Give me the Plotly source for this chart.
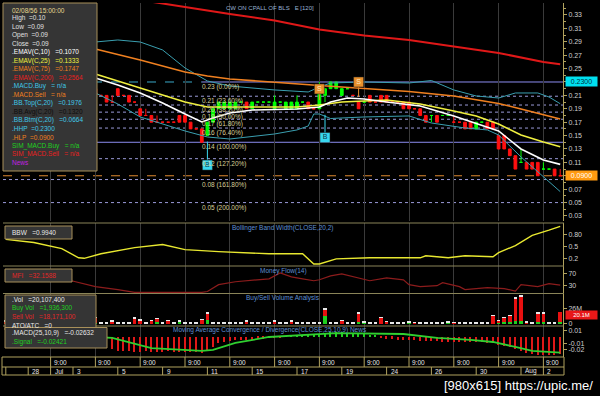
import plotly.graph_objects as go

# ---------------- DATA ----------------
bars = list(range(100))

opens = [.25,.24,.25,.24,.23,.24,.23,.22,.23,.22,
         .23,.22,.22,.22,.21,.22,.22,.21,.21,.20,
         .22,.21,.21,.20,.19,.18,.18,.17,.17,.17,
         .17,.18,.18,.17,.16,.16,.15,.17,.19,.19,
         .19,.19,.20,.20,.19,.20,.20,.20,.19,.20,
         .19,.19,.19,.20,.20,.19,.19,.21,.22,.22,
         .21,.22,.21,.20,.20,.21,.20,.21,.21,.20,
         .20,.20,.20,.19,.19,.18,.18,.18,.18,.18,
         .17,.17,.17,.17,.16,.17,.17,.17,.15,.15,
         .13,.12,.11,.11,.11,.11,.10,.10,.10,.09]
highs = [.25,.25,.25,.24,.24,.24,.23,.23,.23,.23,
         .23,.22,.23,.22,.22,.22,.22,.21,.21,.21,
         .22,.21,.21,.20,.19,.19,.18,.18,.17,.17,
         .17,.18,.18,.17,.16,.16,.17,.19,.20,.20,
         .20,.20,.20,.20,.20,.20,.20,.20,.21,.20,
         .20,.20,.21,.20,.20,.19,.23,.22,.23,.23,
         .22,.22,.21,.20,.20,.21,.20,.21,.21,.20,
         .20,.20,.20,.19,.19,.18,.18,.18,.18,.18,
         .18,.17,.17,.17,.17,.17,.17,.17,.15,.15,
         .13,.12,.13,.11,.11,.11,.11,.10,.10,.10]
lows = [.24,.24,.24,.23,.23,.23,.22,.22,.22,.22,
        .22,.22,.22,.21,.21,.21,.21,.21,.20,.20,
        .21,.21,.20,.20,.18,.18,.17,.17,.17,.17,
        .17,.17,.17,.16,.16,.14,.15,.17,.19,.19,
        .19,.19,.20,.19,.19,.20,.20,.20,.19,.20,
        .19,.19,.19,.20,.19,.19,.19,.20,.22,.22,
        .21,.22,.21,.19,.20,.20,.20,.20,.20,.20,
        .20,.19,.19,.19,.18,.17,.17,.17,.18,.18,
        .17,.17,.16,.16,.16,.17,.16,.16,.13,.13,
        .12,.10,.11,.10,.10,.09,.10,.10,.09,.09]
closes = [.24,.25,.24,.23,.24,.23,.22,.23,.22,.23,
          .22,.22,.22,.21,.22,.22,.21,.21,.20,.20,
          .21,.21,.20,.20,.18,.18,.17,.17,.17,.17,
          .17,.17,.17,.16,.16,.14,.17,.19,.20,.20,
          .20,.20,.20,.19,.20,.20,.20,.20,.20,.20,
          .20,.20,.20,.20,.19,.19,.22,.22,.23,.23,
          .22,.22,.21,.19,.20,.20,.20,.20,.20,.20,
          .20,.19,.19,.19,.18,.17,.18,.17,.18,.18,
          .17,.17,.16,.16,.17,.17,.16,.16,.13,.13,
          .12,.10,.11,.10,.10,.09,.10,.10,.09,.09]

ema200_x = [0, 8, 16, 24, 32, 40, 48, 56, 64, 72, 80, 88, 96, 99]
ema200 = [0.3837, 0.3733, 0.3628, 0.3516, 0.3412, 0.3315, 0.3218, 0.3084, 0.2994,
          0.2927, 0.2830, 0.2733, 0.2599, 0.2564]
ema75_x = [0, 8, 16, 24, 32, 36, 40, 48, 56, 64, 72, 80, 88, 92, 96, 99]
ema75 = [0.3076, 0.2927, 0.2793, 0.2628, 0.2449, 0.2390, 0.2345, 0.2293, 0.2248,
         0.2203, 0.2158, 0.2091, 0.1979, 0.1897, 0.1807, 0.1747]
ema25_x = [0, 8, 16, 24, 32, 36, 44, 52, 56, 60, 68, 74, 80, 84, 88, 92, 96, 99]
ema25 = [0.2703, 0.2554, 0.2419, 0.2211, 0.2002, 0.1927, 0.1927, 0.1927, 0.1957,
         0.2002, 0.2031, 0.1972, 0.1867, 0.1793, 0.1673, 0.1509, 0.1405, 0.1333]
ema10_x = [0, 8, 16, 20, 24, 28, 32, 35, 37, 40, 44, 52, 56, 58, 61, 64, 68, 74,
           80, 85, 88, 90, 92, 96, 99]
ema10 = [0.2628, 0.2509, 0.2360, 0.2255, 0.2136, 0.1987, 0.1822, 0.1703, 0.1763,
         0.1837, 0.1882, 0.1897, 0.1927, 0.2002, 0.2061, 0.2046, 0.2002, 0.1942,
         0.1793, 0.1658, 0.1569, 0.1434, 0.1300, 0.1136, 0.1070]
bbtop_x = [0, 8, 16, 20, 24, 28, 32, 36, 40, 48, 54, 56, 58, 64, 72, 76, 80, 84,
           88, 91, 95, 97, 99]
bbtop = [0.2778, 0.2852, 0.2897, 0.2927, 0.2897, 0.2778, 0.2509, 0.2315, 0.2240,
         0.2181, 0.2151, 0.2225, 0.2285, 0.2300, 0.2285, 0.2322, 0.2181, 0.2091,
         0.2061, 0.2136, 0.2136, 0.2076, 0.1976]
bbbtm_x = [0, 8, 16, 20, 24, 28, 32, 36, 40, 48, 52, 54, 55, 56, 58, 64, 72, 76,
           82, 86, 88, 92, 95, 99]
bbbtm = [0.2479, 0.2330, 0.2136, 0.1972, 0.1778, 0.1673, 0.1569, 0.1479, 0.1449,
         0.1524, 0.1584, 0.1643, 0.1822, 0.1822, 0.1755, 0.1778, 0.1793, 0.1688,
         0.1613, 0.1584, 0.1509, 0.1181, 0.0957, 0.0664]
bbavg_last = 0.1320

bbw_x = [0, 5, 10, 13, 14, 17, 23, 28, 32, 38, 47, 53, 55, 56, 59, 65, 74, 75, 79,
         82, 87, 88, 91, 94, 97, 99]
bbw = [0.675, 0.60, 0.45, 0.225, 0.2125, 0.325, 0.475, 0.55, 0.425, 0.375, 0.325,
       0.325, 0.075, 0.075, 0.20, 0.225, 0.225, 0.275, 0.225, 0.275, 0.25, 0.35,
       0.525, 0.775, 0.90, 0.994]

mfi_x = [0, 5, 11, 16, 20, 23, 26, 30, 35, 36, 38, 41, 47, 49, 51, 53, 55, 56, 58,
         60, 62, 65, 68, 71, 72, 74, 77, 78, 81, 82, 86, 89, 91, 92, 95, 97, 99]
mfi = [76.7, 70, 50, 26.7, 16.7, 7, 7, 7, 7, 10, 33.3, 43.3, 53.3, 73.3, 60, 53.3,
       46.7, 50, 63.3, 70, 60, 46.7, 56.7, 50, 33.3, 26.7, 30, 40, 26.7, 16.7, 23.3,
       20, 11.7, 33.3, 26.7, 36.7, 32.1588]

vol_buy = [1, 0, 0, 2, 0, 1, 0, 0, 3, 0,
           0, 1, 0, 0, 2, 0, 1, 0, 0, 0,
           0, 0, 0, 0, 0, 0, 0, 3, 0, 0,
           0, 3, 0, 0, 0, 0, 6, 0, 0, 0,
           0, 0, 0, 0, 0, 0, 0, 0, 0, 0,
           0, 0, 0, 0, 0, 0, 0, 13, 0, 0,
           0, 0, 0, 3, 2, 0, 0, 0, 0, 0,
           0, 0, 2, 0, 0, 0, 0, 0, 0, 2,
           0, 0, 0, 0, 0, 0, 0, 0, 2, 2,
           3, 4, 4, 0, 0, 3, 3, 0, 0, 1.9363]
vol_sell = [3, 2, 0, 5, 0, 4, 0, 2, 6, 0,
            2, 5, 0, 3, 6, 0, 9, 0, 0, 4,
            0, 0, 0, 9, 5, 0, 5, 5, 0, 5,
            0, 0, 0, 0, 0, 7, 11, 0, 0, 0,
            0, 0, 0, 4, 0, 0, 0, 0, 3, 0,
            0, 3, 0, 0, 0, 0, 0, 11, 0, 0,
            5, 0, 0, 14, 0, 0, 0, 10, 3, 0,
            0, 0, 0, 2, 0, 0, 0, 0, 0, 0,
            2, 0, 0, 0, 0, 0, 0, 13, 3, 8,
            10, 38, 41, 1.5, 0, 14, 14, 0, 0, 18.1711]
vol_ato = [1, 1.5, 1.5, 1, 1.5, 1, 1.5, 1, 1, 1.5,
           1, 1, 1.5, 1, 1, 1.5, 0.5, 1.5, 1.5, 1,
           1.5, 1.5, 1.5, 1, 1.5, 1.5, 0.5, 0.5, 1.5, 0.5,
           1.5, 2, 1.5, 1.5, 1.5, 0.5, 1, 1.5, 1.5, 1.5,
           1.5, 1.5, 1.5, 0.5, 1.5, 1.5, 1.5, 1.5, 2, 1.5,
           1.5, 1.5, 1.5, 1.5, 1.5, 1.5, 1.5, 1, 1.5, 1.5,
           0.5, 1.5, 1.5, 1, 1.5, 1.5, 1.5, 0.5, 0.5, 1.5,
           1.5, 1.5, 1, 0.5, 1.5, 1.5, 1.5, 1.5, 1.5, 2,
           0.5, 1.5, 1.5, 1.5, 1.5, 1.5, 1.5, 0.5, 0.5, 0.5,
           0.5, 2, 2, 1.5, 1.5, 1.5, 1.5, 1.5, 1.5, 0]

macd = [-0.008, -0.006, -0.004, -0.002, 0.0, 0.001, 0.002, 0.002, 0.002, 0.001,
        0.0, -0.002, -0.004, -0.006, -0.008, -0.010, -0.012, -0.014, -0.017, -0.019,
        -0.021, -0.022, -0.022, -0.023, -0.023, -0.022, -0.023, -0.023, -0.023, -0.022,
        -0.023, -0.023, -0.023, -0.023, -0.023, -0.024, -0.020, -0.015, -0.010, -0.007,
        -0.006, -0.005, -0.005, -0.004, -0.004, -0.003, -0.003, -0.002, -0.002, -0.001,
        0.001, 0.001, 0.002, 0.002, 0.002, 0.003, 0.005, 0.006, 0.007, 0.007,
        0.007, 0.006, 0.006, 0.005, 0.004, 0.003, 0.002, -0.002, -0.003, -0.003,
        -0.004, -0.004, -0.005, -0.005, -0.006, -0.006, -0.006, -0.006, -0.007, -0.007,
        -0.007, -0.007, -0.008, -0.008, -0.008, -0.008, -0.009, -0.010, -0.012, -0.014,
        -0.016, -0.019, -0.022, -0.024, -0.026, -0.027, -0.027, -0.027, -0.027, -0.02632]
signal_x = [0, 8, 16, 19, 26, 35, 37, 41, 47, 53, 59, 71, 77, 83, 87, 91, 94, 99]
signal = [-0.006, -0.002, 0.0, -0.0015, -0.017, -0.0215, -0.020, -0.0092, 0.0, 0.003,
          0.006, 0.0046, -0.0015, -0.0046, -0.0077, -0.0154, -0.0215, -0.02421]

fib_high, fib_low = 0.23, 0.14
fib_ratios = [0.0, 0.236, 0.382, 0.5, 0.618, 0.764, 1.0, 1.272, 1.618, 2.0]
fib_start = 35
hhp, hlp = 0.23, 0.09

sig_bars = [36, 57, 56, 63]
sig_kind = ['B', 'B', 'S', 'S']
sig_box = [0.106, 0.147, 0.2196, 0.2300]
sig_stem_from = [0.141, 0.181, 0.203, 0.2076]
sig_stem_to = [0.114, 0.154, 0.2136, 0.224]

hour_ticks = [8, 16, 24, 32, 40, 48, 56, 64, 72, 80, 88, 96]
hour_labels = ['9:00'] * 12
date_ticks = [0, 4, 8, 12, 20, 28, 36, 44, 52, 60, 68, 76, 84, 92, 96]
date_labels = ['', '28', 'Jul', '3', '5', '9', '11', '15', '17', '19', '24', '26',
               '30', 'Aug', '2']
stamp = '02/08/56 15:00:00'

# ---------------- LAYOUT HELPERS ----------------
W, H = 600, 396
X0, X1 = 3, 563
FONT = 'Liberation Sans, Arial, sans-serif'
AXC = '#b0a25e'
BOXC = '#a8905a'
SP = '\u00a0'


def fx(px):
    return px / W


def fy(py):
    return 1 - py / H


panels = {1: (3, 221), 2: (223, 266), 3: (266, 293), 4: (294, 326), 5: (326, 357)}
ranges = {1: [0.0225, 0.3479], 2: [0.025, 1.075], 3: [5, 97], 4: [-4, 50],
          5: [-0.0308, 0.0169]}

fig = go.Figure()

# main panel
fig.add_trace(go.Candlestick(
    x=bars, open=opens, high=highs, low=lows, close=closes, xaxis='x', yaxis='y',
    increasing=dict(line=dict(color='#00ff00', width=1), fillcolor='#00ff00'),
    decreasing=dict(line=dict(color='#ff1010', width=1), fillcolor='#ff1010'),
    whiskerwidth=0, hoverinfo='skip', showlegend=False))
for xs, ys, col, wd in [(bbtop_x, bbtop, '#3a9fb0', 1), (bbbtm_x, bbbtm, '#3a9fb0', 1),
                        (ema200_x, ema200, '#e01818', 2), (ema75_x, ema75, '#f08020', 1.6),
                        (ema25_x, ema25, '#f0f040', 1.6), (ema10_x, ema10, '#ffffff', 1.6)]:
    fig.add_trace(go.Scatter(x=xs, y=ys, mode='lines', line=dict(color=col, width=wd),
                             xaxis='x', yaxis='y', hoverinfo='skip', showlegend=False))

# signal stems and boxes
for kind, col, tcol in [('B', '#38d8f0', '#103848'), ('S', '#e8902c', '#ffe8c0')]:
    sx, sy = [], []
    bx, by = [], []
    for b, k, bv, s0, s1 in zip(sig_bars, sig_kind, sig_box, sig_stem_from, sig_stem_to):
        if k != kind:
            continue
        sx += [b, b, None]
        sy += [s0, s1, None]
        bx.append(b)
        by.append(bv)
    fig.add_trace(go.Scatter(x=sx, y=sy, mode='lines', line=dict(color=col, width=1),
                             xaxis='x', yaxis='y', hoverinfo='skip', showlegend=False))
    fig.add_trace(go.Scatter(x=bx, y=by, mode='markers+text', text=[kind] * len(bx),
                             textposition='middle center',
                             textfont=dict(family=FONT, size=7, color=tcol),
                             marker=dict(symbol='square', size=10, color=col,
                                         line=dict(color='#202020', width=0.5)),
                             xaxis='x', yaxis='y', hoverinfo='skip', showlegend=False))

# BBW
fig.add_trace(go.Scatter(x=bbw_x, y=bbw, mode='lines', line=dict(color='#e8e830', width=1.4),
                         xaxis='x2', yaxis='y2', hoverinfo='skip', showlegend=False))
# MFI
fig.add_trace(go.Scatter(x=mfi_x, y=mfi, mode='lines', line=dict(color='#8c1c1c', width=1.2),
                         xaxis='x3', yaxis='y3', hoverinfo='skip', showlegend=False))
# Volume
for vals, col in [(vol_buy, '#20d020'), (vol_sell, '#e81010'), (vol_ato, '#e8e8e8')]:
    fig.add_trace(go.Bar(x=bars, y=vals, marker=dict(color=col, line=dict(width=0)),
                         xaxis='x4', yaxis='y4', hoverinfo='skip', showlegend=False))
# MACD
fig.add_trace(go.Bar(x=bars, y=macd, width=0.22,
                     marker=dict(color=['#e01818' if v < 0 else '#20d020' for v in macd],
                                 line=dict(width=0)),
                     xaxis='x5', yaxis='y5', hoverinfo='skip', showlegend=False))
fig.add_trace(go.Scatter(x=signal_x, y=signal, mode='lines', line=dict(color='#30d030', width=1.8),
                         xaxis='x5', yaxis='y5', hoverinfo='skip', showlegend=False))

# ---------------- AXES ----------------
layout = dict(width=W, height=H, margin=dict(l=0, r=0, t=0, b=0),
              paper_bgcolor='#000000', plot_bgcolor='#000000', barmode='stack',
              bargap=0.35, showlegend=False, hovermode=False)
for i in range(1, 6):
    xn = 'xaxis' if i == 1 else f'xaxis{i}'
    yn = 'yaxis' if i == 1 else f'yaxis{i}'
    xa = dict(domain=[fx(X0), fx(X1)], range=[-0.5, 99.5], anchor='y' if i == 1 else f'y{i}',
              showticklabels=False, ticks='', tickmode='array', tickvals=hour_ticks,
              showgrid=True, gridcolor='#3a3a3a', gridwidth=1, zeroline=False,
              showline=False, fixedrange=True, rangeslider=dict(visible=False))
    if i > 1:
        xa['matches'] = 'x'
    layout[xn] = xa
    top, bot = panels[i]
    layout[yn] = dict(domain=[fy(bot), fy(top)], range=ranges[i], side='right',
                      anchor='x' if i == 1 else f'x{i}', showgrid=False, zeroline=False,
                      showline=True, linecolor=AXC, linewidth=1, ticks='outside', ticklen=3,
                      tickcolor=AXC, tickfont=dict(family=FONT, size=7, color='#cfcfcf'),
                      fixedrange=True)
layout['yaxis'].update(tickmode='linear', tick0=0.03, dtick=0.02, tickformat='.2f',
                       minor=dict(dtick=0.01, ticklen=2, tickcolor=AXC, ticks='outside'))
layout['yaxis2'].update(tickmode='array', tickvals=[0.2, 0.5, 0.8], ticktext=['0.2', '0.5', '0.80'])
layout['yaxis3'].update(tickmode='array', tickvals=[30, 70], ticktext=['30', '70'])
layout['yaxis4'].update(tickmode='array', tickvals=[0, 26], ticktext=['0', '26M'])
layout['yaxis5'].update(tickmode='array', tickvals=[-0.02, -0.01, 0.01],
                        ticktext=['-0.02', '-0.01', '0.01'])
fig.update_layout(**layout)

shapes = []
ann = []


def text(t, px, py, col, size=6.5, xanchor='left', family=FONT):
    ann.append(dict(text=t, x=fx(px), y=fy(py), xref='paper', yref='paper',
                    xanchor=xanchor, yanchor='middle', showarrow=False,
                    font=dict(family=family, size=size, color=col)))


def rect(x0, y0, x1, y1, fill, line, layer='above'):
    shapes.append(dict(type='rect', xref='paper', yref='paper', x0=fx(x0), x1=fx(x1),
                       y0=fy(y1), y1=fy(y0), fillcolor=fill, line=dict(color=line, width=1),
                       layer=layer))


def hline_px(py, x0=X0, x1=X1 + 1, col=AXC):
    shapes.append(dict(type='line', xref='paper', yref='paper', x0=fx(x0), x1=fx(x1),
                       y0=fy(py), y1=fy(py), line=dict(color=col, width=1), layer='above'))


# HHP / HLP / fibonacci levels
shapes.append(dict(type='line', xref='x', yref='y', x0=-0.5, x1=fib_start, y0=hhp, y1=hhp,
                   line=dict(color='#3aa8c8', width=1, dash='dash'), layer='below'))
shapes.append(dict(type='line', xref='x', yref='y', x0=-0.5, x1=99.5, y0=hlp, y1=hlp,
                   line=dict(color='#e08a30', width=1, dash='dash'), layer='below'))
for r in fib_ratios:
    lvl = fib_high - r * (fib_high - fib_low)
    if lvl < ranges[1][0]:
        continue
    solid = r in (0.0, 1.0)
    shapes.append(dict(type='line', xref='x', yref='y',
                       x0=fib_start if r == 0.0 else -0.5, x1=99.5, y0=lvl, y1=lvl,
                       line=dict(color='#8c8cf0' if solid else '#9a9ad8', width=1,
                                 dash='solid' if solid else 'dot'), layer='below'))
    ann.append(dict(text=f"{lvl + 1e-9:.2f} ({r * 100:.2f}%)", x=fib_start, y=lvl,
                    xref='x', yref='y', xanchor='left', yanchor='top', xshift=-2, yshift=1,
                    showarrow=False, font=dict(family=FONT, size=6.5, color='#d8cf98')))

# panel separators
for py in (223, 266, 293.5, 326):
    hline_px(py, col='#8a8458')

# date rows
for py in (357, 367, 375):
    hline_px(py, x0=2, x1=564, col=AXC)
for px in (2, 564):
    shapes.append(dict(type='line', xref='paper', yref='paper', x0=fx(px), x1=fx(px),
                       y0=fy(375), y1=fy(357), line=dict(color=AXC, width=1), layer='above'))
for b, lab in zip(hour_ticks, hour_labels):
    shapes.append(dict(type='line', xref='x5', yref='paper', x0=b, x1=b, y0=fy(367), y1=fy(357),
                       line=dict(color=AXC, width=1)))
    ann.append(dict(text=lab, x=b, y=fy(362), xref='x5', yref='paper', xanchor='left',
                    yanchor='middle', xshift=1, showarrow=False,
                    font=dict(family=FONT, size=6.5, color='#e6e6e6')))
for b, lab in zip(date_ticks, date_labels):
    shapes.append(dict(type='line', xref='x5', yref='paper', x0=b, x1=b, y0=fy(375), y1=fy(367),
                       line=dict(color=AXC, width=1)))
    ann.append(dict(text=lab, x=b, y=fy(371.2), xref='x5', yref='paper', xanchor='left',
                    yanchor='middle', xshift=2, showarrow=False,
                    font=dict(family=FONT, size=6.5, color='#e6e6e6')))

# titles
text('CW ON CPALL OF BLS' + SP * 3 + 'E [120]', 270, 8, '#9ab2d2', size=6, xanchor='center')
text('Bollinger Band Width(CLOSE,20,2)', 283, 227.5, '#5f8fd0', xanchor='center')
text('Money Flow(14)', 283, 270.5, '#5f8fd0', xanchor='center')
text('Buy/Sell Volume Analysis', 283, 298, '#5f8fd0', xanchor='center')
text('Moving Average Convergence / Divergence(CLOSE,25,10,9) News', 270, 329.5, '#5f8fd0',
     xanchor='center')

# main info box
rect(3, 3, 97, 171, '#353535', BOXC)
info = [
    (stamp, '#e6d890'),
    (f"High{SP*2}={highs[-1]:.2f}", '#e0e0e0'),
    (f"Low{SP*2}={lows[-1]:.2f}", '#e0e0e0'),
    (f"Open{SP*2}={opens[-1]:.2f}", '#e0e0e0'),
    (f"Close{SP*2}={closes[-1]:.2f}", '#e0e0e0'),
    (f".EMAV(C,10){SP*3}={ema10[-1]:.4f}", '#ffffff'),
    (f".EMAV(C,25){SP*3}={ema25[-1]:.4f}", '#f0f040'),
    (f".EMAV(C,75){SP*3}={ema75[-1]:.4f}", '#f08020'),
    (f".EMAV(C,200){SP*3}={ema200[-1]:.4f}", '#e82020'),
    (f".MACD.Buy{SP*3}={SP}n/a", '#40c8e8'),
    (f".MACD.Sell{SP*3}={SP}n/a", '#f08020'),
    (f".BB.Top(C,20){SP*3}={bbtop[-1]:.4f}", '#40c8e8'),
    (f".BB.Avg(C,20){SP*3}={bbavg_last:.4f}", '#0c0c0c'),
    (f".BB.Btm(C,20){SP*3}={bbbtm[-1]:.4f}", '#40c8e8'),
    (f".HHP{SP*2}={hhp:.4f}", '#40c8e8'),
    (f".HLP{SP*2}={hlp:.4f}", '#f08020'),
    (f"SIM_MACD.Buy{SP*3}={SP}n/a", '#20d020'),
    (f"SIM_MACD.Sell{SP*3}={SP}n/a", '#e82020'),
    ("News", '#c020e0'),
]
for k, (t, c) in enumerate(info):
    text(t, 10, 10 + 8.48 * k, c)

# sub-panel boxes
rect(5, 226, 72, 239, '#353535', BOXC)
text(f"BBW{SP*3}={bbw[-1]:.4f}", 10, 232.5, '#e8e8e8')
rect(5, 269, 72, 282, '#353535', BOXC)
text(f"MFI{SP*3}={mfi[-1]:.4f}", 10, 275.5, '#e02828')
vol_total = vol_buy[-1] + vol_sell[-1] + vol_ato[-1]
rect(5, 295, 96, 330, '#353535', BOXC)
text(f".Vol{SP*3}={round(vol_total * 1e6):,}", 10, 299.5, '#e8e8e8')
text(f"Buy Vol{SP*3}={round(vol_buy[-1] * 1e6):,}", 10, 308, '#20d020')
text(f"Sell Vol{SP*3}={round(vol_sell[-1] * 1e6):,}", 10, 316.5, '#e02828')
text(f"ATO/ATC{SP*3}=0", 10, 325, '#e8e8e8')
rect(5, 327.5, 107, 348, '#353535', BOXC)
text(f".MACD(25,10,9){SP*3}={macd[-1]:.5f}", 10, 333, '#e8e8e8')
text(f".Signal{SP*3}={signal[-1]:.5f}", 10, 341.5, '#20d020')

# right-side current value boxes
for val, bg, fg in [(hhp, '#00e0f0', '#003040'), (hlp, '#ff9a10', '#ffffff')]:
    ann.append(dict(text=f"{val:.4f}", x=fx(565), y=val, xref='paper', yref='y',
                    xanchor='left', yanchor='middle', showarrow=False, bgcolor=bg,
                    width=31, height=9, borderpad=0,
                    font=dict(family=FONT, size=7, color=fg)))
ann.append(dict(text=f"{vol_total:.1f}M", x=fx(565), y=vol_total - 5, xref='paper', yref='y4',
                xanchor='left', yanchor='middle', showarrow=False, bgcolor='#e81818',
                width=31, height=8, borderpad=0, font=dict(family=FONT, size=6, color='#ffffff')))

# watermark
text('[980x615] https://upic.me/', 595, 385, '#ffffff', size=13, xanchor='right')

fig.update_layout(shapes=shapes, annotations=ann)
fig.write_html('out.html')
